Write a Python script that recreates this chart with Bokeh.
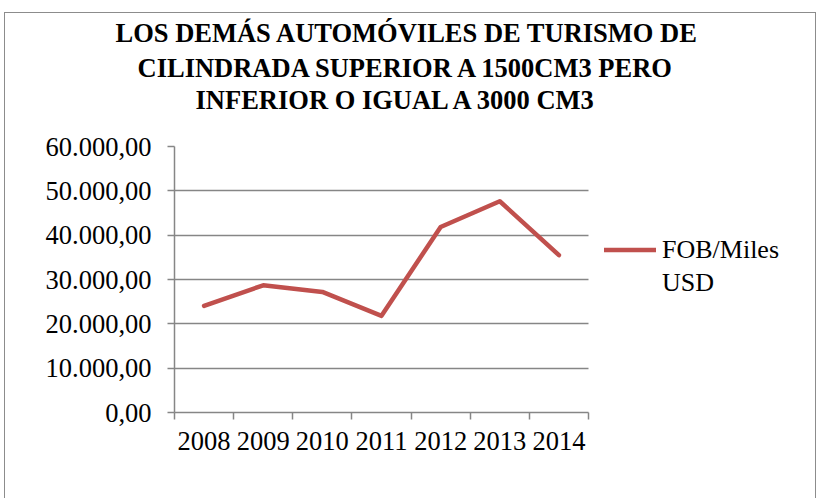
from bokeh.plotting import figure
from bokeh.models import (Range1d, FixedTicker, Legend, LegendItem, ColumnDataSource, Title)
from bokeh.embed import file_html
from bokeh.resources import INLINE

years = ["2008", "2009", "2010", "2011", "2012", "2013", "2014"]
fob = [24050, 28700, 27200, 21800, 41850, 47650, 35500]
legend_lines = ["FOB/Miles", "USD"]
title_lines = ["LOS DEMÁS AUTOMÓVILES DE TURISMO DE",
               "CILINDRADA SUPERIOR A 1500CM3 PERO",
               "INFERIOR O IGUAL A 3000 CM3"]
y_ticks = [0, 10000, 20000, 30000, 40000, 50000, 60000]


def es_fmt(v):
    s = f"{v:,.2f}"
    return s.replace(",", "X").replace(".", ",").replace("X", ".")


FONT = "Liberation Serif"
GRID = "#868686"
RED = "#C0504D"

# layout (pixels)
W, H = 812, 486
LEFT, TOP, BOTTOM = 169, 133, 87
FRAME_W = W - LEFT
DATA_W = 414            # pixel width of the category area
n = len(years)
x_end = n * FRAME_W / DATA_W
# horizontal offsets of the title lines from the frame's left edge (centres them on the chart box)
title_offsets = [-59, -37, 21]
title_standoffs = [5, 0, 0]

xs = [i + 0.5 for i in range(n)]
src = ColumnDataSource(dict(x=xs, y=fob))

p = figure(width=W, height=H, output_backend="svg", toolbar_location=None,
           x_range=Range1d(0, x_end), y_range=Range1d(y_ticks[0], y_ticks[-1]),
           min_border_left=LEFT, min_border_right=0, min_border_top=TOP,
           min_border_bottom=BOTTOM, title=None)
p.outline_line_color = None
p.styles = {"border": "1px solid #8c8c8c", "border-bottom": "none",
            "margin": "12px 0 0 4px"}

# spacer between the title block and the plot area (closest panel to the frame)
p.add_layout(Title(text=" ", text_font_size="1px", standoff=29), "above")
for line, off, so in zip(reversed(title_lines), reversed(title_offsets),
                         reversed(title_standoffs)):
    t = Title(text=line, text_font=FONT, text_font_size="26.5px",
              text_font_style="bold", align="left", offset=off,
              text_color="black", standoff=so)
    p.add_layout(t, "above")

r = p.line("x", "y", source=src, line_color=RED, line_width=4.5,
           line_join="round", line_cap="round")
r_blank = p.line(x=[], y=[], line_alpha=0)

# x axis
p.xaxis.bounds = (0, n)
p.xaxis.ticker = FixedTicker(ticks=xs, minor_ticks=list(range(n + 1)))
p.xaxis.major_label_overrides = {x: y for x, y in zip(xs, years)}
p.xaxis.major_tick_out = 0
p.xaxis.major_tick_in = 0
p.xaxis.minor_tick_out = 7
p.xaxis.minor_tick_in = 0
p.xaxis.minor_tick_line_color = GRID
p.xaxis.minor_tick_line_width = 1.5
p.xaxis.axis_line_color = GRID
p.xaxis.axis_line_width = 1.5
p.xaxis.major_label_text_font = FONT
p.xaxis.major_label_text_font_size = "26.5px"
p.xaxis.major_label_text_color = "black"
p.xaxis.major_label_standoff = 12

# y axis
p.yaxis.ticker = FixedTicker(ticks=y_ticks)
p.yaxis.major_label_overrides = {v: es_fmt(v) for v in y_ticks}
p.yaxis.major_tick_out = 7
p.yaxis.major_tick_in = 0
p.yaxis.major_tick_line_color = GRID
p.yaxis.major_tick_line_width = 1.5
p.yaxis.minor_tick_line_color = None
p.yaxis.axis_line_color = GRID
p.yaxis.axis_line_width = 1.5
p.yaxis.major_label_text_font = FONT
p.yaxis.major_label_text_font_size = "26.5px"
p.yaxis.major_label_text_color = "black"
p.yaxis.major_label_standoff = 16

p.xgrid.visible = False
p.ygrid.ticker = FixedTicker(ticks=y_ticks)
p.ygrid.cross_bounds = (0, n)
p.ygrid.grid_line_color = GRID
p.ygrid.grid_line_width = 1.5

legend = Legend(items=[LegendItem(label=legend_lines[0], renderers=[r]),
                       LegendItem(label=legend_lines[1], renderers=[r_blank])],
                location=(430, 113), padding=0, margin=0, spacing=0,
                glyph_width=52, glyph_height=33, label_standoff=6,
                border_line_color=None, background_fill_alpha=0,
                label_text_font=FONT, label_text_font_size="26px",
                label_text_color="black", label_height=33)
p.add_layout(legend, "center")

open("out.html", "w").write(file_html(p, INLINE))
